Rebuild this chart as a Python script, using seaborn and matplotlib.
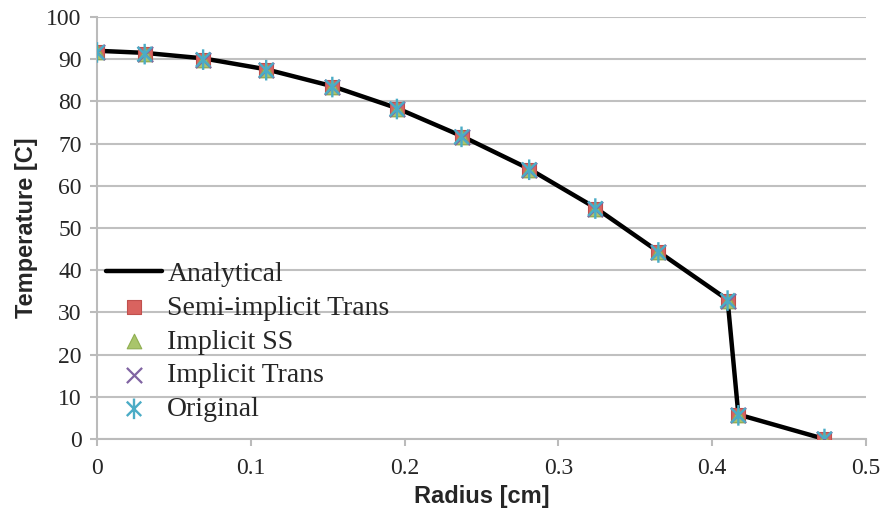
import matplotlib
matplotlib.use("Agg")
import matplotlib.pyplot as plt
from matplotlib.path import Path
import seaborn as sns
import pandas as pd

radius = [0.0, 0.031, 0.069, 0.110, 0.153, 0.195, 0.237, 0.281, 0.324, 0.365, 0.410, 0.417, 0.473]
analytical = [92.0, 91.5, 90.2, 87.6, 83.6, 78.4, 71.8, 64.0, 54.8, 44.4, 33.0, 5.8, 0.0]
semi_implicit_trans = [91.6, 91.2, 89.9, 87.4, 83.4, 78.2, 71.6, 63.8, 54.6, 44.2, 32.8, 5.6, 0.0]
implicit_ss = [91.6, 91.2, 89.9, 87.4, 83.4, 78.2, 71.6, 63.8, 54.6, 44.2, 32.8, 5.6, 0.0]
implicit_trans = [91.6, 91.2, 89.9, 87.4, 83.4, 78.2, 71.6, 63.8, 54.6, 44.2, 32.8, 5.6, 0.0]
original = [91.6, 91.2, 89.9, 87.4, 83.4, 78.2, 71.6, 63.8, 54.6, 44.2, 32.8, 5.6, 0.0]

x_ticks = [0, 0.1, 0.2, 0.3, 0.4, 0.5]
x_tick_labels = ["0", "0.1", "0.2", "0.3", "0.4", "0.5"]
y_ticks = list(range(0, 101, 10))

sns.set_style("white")
plt.rcParams["font.family"] = ["Liberation Serif", "DejaVu Serif"]

# Excel-style asterisk: an x plus a vertical bar
asterisk = Path([(-0.7, -0.7), (0.7, 0.7), (-0.7, 0.7), (0.7, -0.7), (0, -1), (0, 1)],
                [Path.MOVETO, Path.LINETO, Path.MOVETO, Path.LINETO, Path.MOVETO, Path.LINETO])

fig = plt.figure(figsize=(8.83, 5.14), dpi=100)
ax = fig.add_axes([97 / 883, 1 - 439 / 514, (866 - 97) / 883, (439 - 17) / 514])

df = pd.DataFrame({"r": radius, "a": analytical})
sns.lineplot(data=df, x="r", y="a", ax=ax, color="black", lw=3.2, label="Analytical",
             sort=False, zorder=3)

series = [
    ("Semi-implicit Trans", semi_implicit_trans, "s", "#D9635F", "#C0504D", 110, 0.8),
    ("Implicit SS", implicit_ss, "^", "#A9C56B", "#8FAE50", 110, 0.8),
    ("Implicit Trans", implicit_trans, "x", "#8064A2", "#8064A2", 120, 1.6),
    ("Original", original, asterisk, "#4BACC6", "#4BACC6", 220, 1.7),
]
for name, vals, mk, fc, ec, size, lw in series:
    sdf = pd.DataFrame({"r": radius, "v": vals})
    if isinstance(mk, str) and mk in ("s", "^"):
        sns.scatterplot(data=sdf, x="r", y="v", ax=ax, marker=mk, color=fc, edgecolor=ec,
                        s=size, linewidth=lw, label=name, zorder=4)
    elif isinstance(mk, str):
        sns.scatterplot(data=sdf, x="r", y="v", ax=ax, marker=mk, color=fc, s=size,
                        linewidth=lw, label=name, zorder=4)
    else:
        sns.scatterplot(data=sdf, x="r", y="v", ax=ax, marker=mk, color=fc, edgecolor=ec,
                        facecolor="none", s=size, linewidth=lw, label=name, zorder=5)

ax.set_xlim(0, 0.5)
ax.set_ylim(0, 100)
ax.set_xticks(x_ticks)
ax.set_xticklabels(x_tick_labels)
ax.set_yticks(y_ticks)
ax.tick_params(axis="both", labelsize=17, length=5, color="#BBBBBB", width=1.5, direction="out")
ax.tick_params(axis="x", bottom=True, pad=9)
ax.tick_params(axis="y", left=True, pad=6)
ax.yaxis.grid(True, color="#C0C0C0", lw=1.5)
ax.xaxis.grid(False)
for s in ["top", "right"]:
    ax.spines[s].set_visible(False)
for s in ["left", "bottom"]:
    ax.spines[s].set_color("#BBBBBB")
    ax.spines[s].set_linewidth(1.5)
ax.set_axisbelow(True)

ax.set_xlabel("Radius [cm]", fontsize=17, fontweight="bold", family=["Liberation Sans"], labelpad=4)
ax.set_ylabel("Temperature [C]", fontsize=17, fontweight="bold", family=["Liberation Sans"], labelpad=6)

leg = ax.legend(loc="lower left", bbox_to_anchor=(0.012, 0.04), frameon=False, fontsize=20,
                handlelength=2.0, handletextpad=0.2, labelspacing=0.3, borderaxespad=0.0,
                borderpad=0.0)

fig.savefig("out.png", dpi=100)
